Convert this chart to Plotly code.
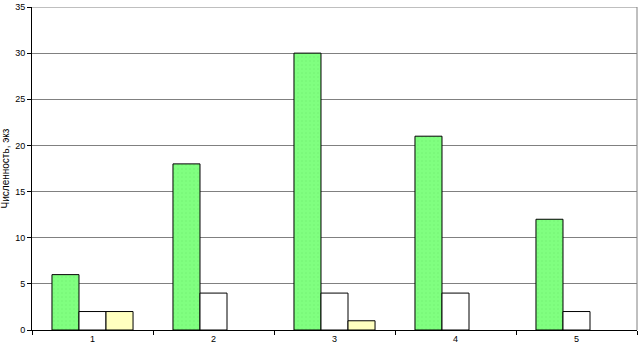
import plotly.graph_objects as go

categories = ["1", "2", "3", "4", "5"]
series_green = [6, 18, 30, 21, 12]
series_white = [2, 4, 4, 4, 2]
series_yellow = [2, 0, 1, 0, 0]
y_ticks = [0, 5, 10, 15, 20, 25, 30, 35]


def nz(vals):
    return [v if v else None for v in vals]


fig = go.Figure()
fig.add_bar(x=categories, y=nz(series_green), name="A",
            marker=dict(color="#80FF80", line=dict(color="black", width=1),
                        pattern=dict(shape=".", fgcolor="#66E066", size=4, solidity=0.12)))
fig.add_bar(x=categories, y=nz(series_white), name="B",
            marker=dict(color="white", line=dict(color="black", width=1)))
fig.add_bar(x=categories, y=nz(series_yellow), name="C",
            marker=dict(color="#FFFFC0", line=dict(color="black", width=1)))

fig.update_layout(
    width=639, height=346,
    margin=dict(l=32, r=2, t=4, b=16),
    barmode="group", bargap=0.33, bargroupgap=0,
    showlegend=False,
    plot_bgcolor="white", paper_bgcolor="white",
    font=dict(family="Liberation Sans, Arial", size=9, color="black"),
)
fig.update_xaxes(type="category", showline=True, linecolor="black", linewidth=1,
                 ticks="outside", tickson="boundaries", ticklen=4, tickcolor="black",
                 showgrid=False, tickfont=dict(size=9))
fig.update_yaxes(range=[0, 35], tickmode="array", tickvals=y_ticks,
                 ticklabeloverflow="allow",
                 showline=True, linecolor="black",
                 linewidth=1, ticks="outside", ticklen=4, tickcolor="black",
                 showgrid=True, gridcolor="#808080", gridwidth=1, zeroline=False,
                 title=dict(text="Численность, экз", font=dict(size=10), standoff=4),
                 tickfont=dict(size=9))
fig.add_shape(type="line", xref="paper", yref="y", x0=1, x1=1, y0=0, y1=35,
              line=dict(color="#808080", width=1))
fig.add_shape(type="line", xref="paper", yref="y", x0=0, x1=1, y0=35, y1=35,
              line=dict(color="#808080", width=1), layer="below")

fig.write_html("out.html", config={"displayModeBar": False},
               post_script="document.body.style.margin='0';document.body.style.overflow='hidden';")
